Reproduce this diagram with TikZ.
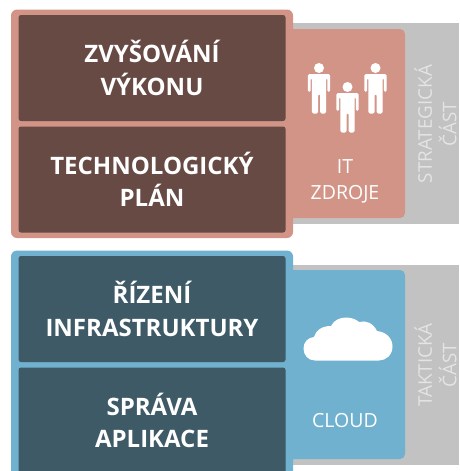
\documentclass[tikz,border=0pt]{standalone}
\usepackage{fontspec}
\setmainfont{Open Sans}
\definecolor{pinkc}{HTML}{D19487}
\definecolor{brownc}{HTML}{684A45}
\definecolor{bluec}{HTML}{6FB1CE}
\definecolor{tealc}{HTML}{3D5A66}
\definecolor{grayc}{HTML}{C2C2C2}
\definecolor{lightc}{HTML}{E4E4E4}
\tikzset{
  inner box/.style={rounded corners=2.5pt,draw=none,minimum width=267pt,minimum height=106pt,inner sep=0pt,text=white,font=\fontsize{24pt}{32.2pt}\selectfont\bfseries,align=center},
  side label/.style={text=white,font=\fontsize{19.5pt}{26pt}\selectfont,align=center,inner sep=0pt},
  rot label/.style={text=lightc,font=\fontsize{18.8pt}{24.5pt}\selectfont,align=center,rotate=90,inner sep=0pt},
  person/.pic={
    \fill[white] (0,0) circle (5pt);
    \fill[white,rounded corners=1.5pt] (-11.2,6) -- (11.2,6) -- (11.2,24) -- (8.3,24) -- (8.3,10) -- (7.2,10) -- (7.2,45.5) -- (1,45.5) -- (1,26) -- (-1,26) -- (-1,45.5) -- (-7.2,45.5) -- (-7.2,10) -- (-8.3,10) -- (-8.3,24) -- (-11.2,24) -- cycle;
  }
}
\begin{document}
\begin{tikzpicture}[x=1pt,y=-1pt]
\useasboundingbox (0,0) rectangle (459,471);
% gray bands
\fill[grayc] (285,23) rectangle (459,224);
\fill[grayc] (285,264.5) rectangle (459,465);
% pink group
\fill[pinkc,rounded corners=5pt] (285,29) -- (405,29) -- (405,218) -- (285,218) -- cycle;
\fill[pinkc,rounded corners=6pt] (11,9.5) rectangle (293,238);
\node[inner box,fill=brownc] (perf) at (152,68) {ZVYŠOVÁNÍ\\VÝKONU};
\node[inner box,fill=brownc] (plan) at (152,179.5) {TECHNOLOGICKÝ\\PLÁN};
\pic at (319,68) {person};
\pic at (347.5,87) {person};
\pic at (375.5,68) {person};
\node[side label] (it) at (345,181) {IT\\ZDROJE};
\node[rot label] (strat) at (435.5,124) {STRATEGICKÁ\\ČÁST};
% blue group
\fill[bluec,rounded corners=5pt] (285,270) -- (405,270) -- (405,459) -- (285,459) -- cycle;
\begin{scope}
\clip (0,0) rectangle (459,471);
\fill[bluec,rounded corners=6pt] (11,250.5) rectangle (293,490);
\node[inner box,fill=tealc] (infra) at (152,309) {ŘÍZENÍ\\INFRASTRUKTURY};
\node[inner box,fill=tealc] (app) at (152,420.5) {SPRÁVA\\APLIKACE};
\end{scope}
\fill[white] (315,360.5) .. controls (308,360.5) and (303.5,355) .. (303.5,348.5) .. controls (303.5,342) and (308,337.5) .. (314,337) .. controls (316,330) and (322,326) .. (331,326) .. controls (334,320) and (340,317.5) .. (346,317.5) .. controls (352,317.5) and (356,319.5) .. (359,322) .. controls (366,320) and (373,323) .. (377,331) .. controls (386,332) and (392.5,338) .. (392.5,346.5) .. controls (392.5,355) and (386,360.5) .. (379,360.5) -- cycle;
\node[side label] (cloud) at (345,421) {CLOUD};
\node[rot label] (tact) at (435.5,365) {TAKTICKÁ\\ČÁST};
\end{tikzpicture}
\end{document}
